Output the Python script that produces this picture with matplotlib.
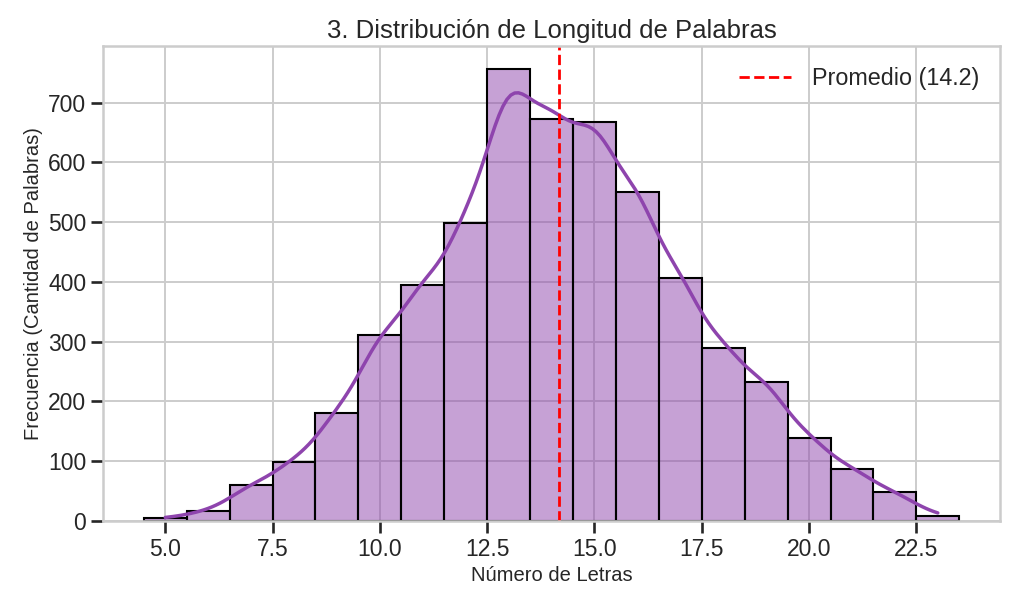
import numpy as np
import pandas as pd
import matplotlib
matplotlib.use("Agg")
import matplotlib.pyplot as plt
import seaborn as sns

# Longitud de palabra (letras) y cantidad de palabras de cada longitud
longitudes = [5, 6, 7, 8, 9, 10, 11, 12, 13, 14, 15, 16, 17, 18, 19, 20, 21, 22, 23]
cantidades = [5, 16, 61, 99, 180, 312, 395, 498, 757, 673, 668, 551, 407, 290, 233, 139, 87, 48, 9]

titulo = "3. Distribución de Longitud de Palabras"
etiqueta_x = "Número de Letras"
etiqueta_y = "Frecuencia (Cantidad de Palabras)"

# Reconstruye la muestra a partir de las frecuencias
muestra = pd.Series(np.repeat(longitudes, cantidades), name="longitud")
promedio = muestra.mean()

sns.set_theme(style="whitegrid")
plt.rcParams['font.family'] = ['Liberation Sans', 'DejaVu Sans']
plt.rcParams.update({
    "xtick.bottom": True,
    "ytick.left": True,
    "xtick.color": "#262626",
    "ytick.color": "#262626",
    "xtick.major.size": 8.5,
    "ytick.major.size": 8.5,
    "xtick.major.width": 1.9,
    "ytick.major.width": 1.9,
    "grid.color": "#cccccc",
    "grid.linewidth": 1.4,
    "axes.edgecolor": "#cccccc",
    "axes.linewidth": 1.8,
})

fig = plt.figure(figsize=(10.24, 6.04), dpi=100)
ax = fig.add_axes([0.1006, 0.1374, 0.876, 0.7864])

sns.histplot(x=muestra, discrete=True, kde=True, color="#8e44ad", alpha=0.5,
             edgecolor="black", linewidth=1.5, line_kws={"linewidth": 2.5}, ax=ax)

ax.axvline(promedio, color="red", linestyle="--", linewidth=2,
           label=f"Promedio ({promedio:.1f})")

ax.set_title(titulo, fontsize=18.5, color="#262626", pad=6)
ax.set_xlabel(etiqueta_x, fontsize=14.5, color="#262626")
ax.set_ylabel(etiqueta_y, fontsize=14.5, color="#262626")
ax.set_xticks([5.0, 7.5, 10.0, 12.5, 15.0, 17.5, 20.0, 22.5])
ax.tick_params(axis="both", labelsize=16.5)

ax.legend(fontsize=16.8, frameon=False, loc="upper right",
          handlelength=2.2, handletextpad=0.9)

fig.savefig("out.png", dpi=100)
